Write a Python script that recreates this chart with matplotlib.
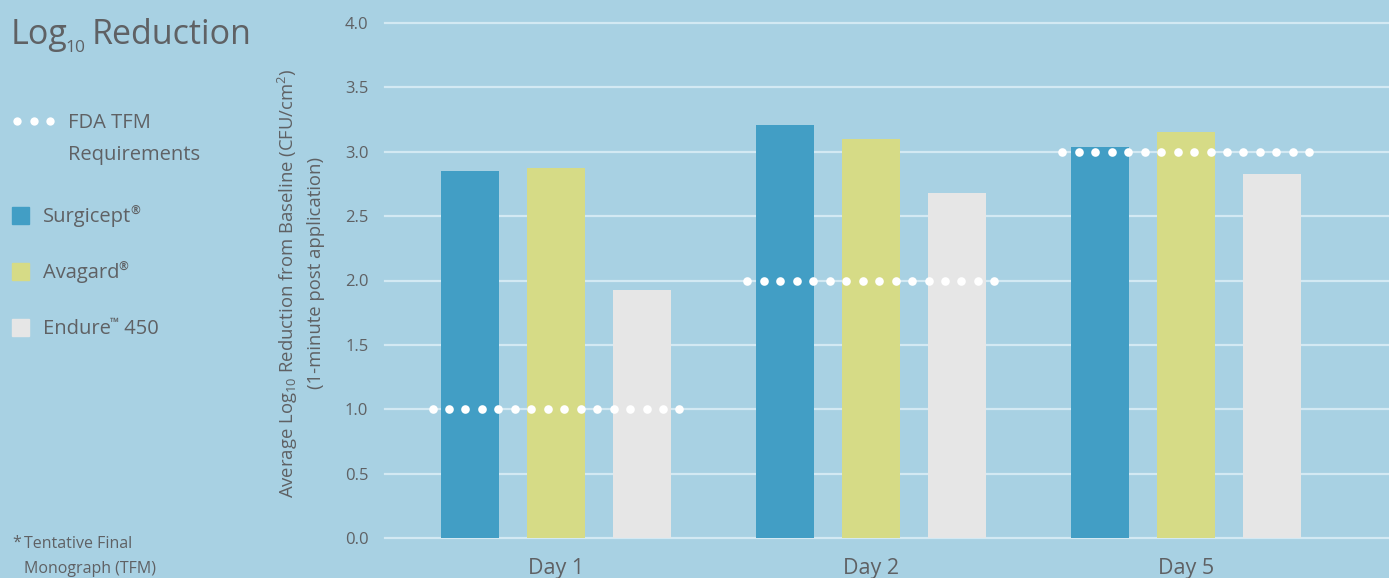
import numpy as np
import matplotlib.pyplot as plt
from matplotlib.patches import Rectangle
from matplotlib.lines import Line2D

plt.rcParams['font.family'] = ['Open Sans', 'DejaVu Sans']
plt.rcParams['mathtext.fontset'] = 'custom'
plt.rcParams['mathtext.rm'] = 'Open Sans'
plt.rcParams['mathtext.it'] = 'Open Sans'

# data
days = ['Day 1', 'Day 2', 'Day 5']
products = ['Surgicept', 'Avagard', 'Endure']
marks = ['®', '®', '™']
suffix = ['', '', ' 450']
surgicept = [2.85, 3.21, 3.04]
avagard = [2.87, 3.10, 3.15]
endure = [1.93, 2.68, 2.83]
tfm_req = [1.0, 2.0, 3.0]
yticks = [0.0, 0.5, 1.0, 1.5, 2.0, 2.5, 3.0, 3.5, 4.0]

bg = '#A8D1E3'
grid_c = '#D3E9F3'
text_c = '#5F6164'
colors = ['#429EC5', '#D6DB86', '#E6E6E6']

W, H = 1389, 578
fig = plt.figure(figsize=(W / 100, H / 100), dpi=100, facecolor=bg)

def fx(px):
	return px / W

def fy(py):
	return 1 - py / H

ax = fig.add_axes([fx(385), fy(538), 1 - fx(385), fy(23) - fy(538)])
ax.set_facecolor(bg)

x = np.arange(len(days))
bw = 0.184
off = 0.273
for i, vals in enumerate([surgicept, avagard, endure]):
	ax.bar(x + (i - 1) * off, vals, width=bw, color=colors[i], zorder=2)

# FDA TFM dotted requirement lines
for xi, req in zip(x, tfm_req):
	xs = np.linspace(xi - 0.392, xi + 0.392, 16)
	ax.plot(xs, [req] * len(xs), 'o', color='white', markersize=6.2,
			markeredgewidth=0, zorder=4)

ax.set_xlim(-0.543, 2.645)
ax.set_ylim(0, 4)
ax.set_yticks(yticks)
ax.set_yticklabels([f'{t:.1f}' for t in yticks])
ax.yaxis.grid(True, color=grid_c, linewidth=1.6, zorder=1)
ax.set_axisbelow(True)
for gl in ax.get_ygridlines():
	gl.set_clip_on(False)
for s in ax.spines.values():
	s.set_visible(False)
ax.tick_params(axis='y', length=0, pad=12, labelsize=12, labelcolor=text_c)
ax.set_xticks(x)
ax.set_xticklabels([])
ax.tick_params(axis='x', length=0)

# day labels under group centres
for xi, d in zip(x, days):
	ax.annotate(d, xy=(xi, 0), xycoords=('data', 'axes fraction'),
				xytext=(0, -14.5), textcoords='offset points', ha='center', va='top',
				fontsize=15.5, color=text_c, annotation_clip=False)

# y label (two lines)
fig.text(fx(288), fy(283), 'Average Log$_{10}$ Reduction from Baseline (CFU/cm$^{2}$)',
		 rotation=90, ha='center', va='center', fontsize=13.3, color=text_c)
fig.text(fx(316), fy(273), '(1-minute post application)',
		 rotation=90, ha='center', va='center', fontsize=13.3, color=text_c)

# title built from pieces so the subscript is small
fig.canvas.draw()
r = fig.canvas.get_renderer()
t1 = fig.text(fx(11), fy(44), 'Log', ha='left', va='baseline', fontsize=24.5, color=text_c)
e1 = t1.get_window_extent(r)
t2 = fig.text(e1.x1 / W - 0.0015, fy(52), '10', ha='left', va='baseline', fontsize=12.5, color=text_c)
e2 = t2.get_window_extent(r)
fig.text(e2.x1 / W + 0.004, fy(44), 'Reduction', ha='left', va='baseline', fontsize=24.5, color=text_c)

# legend
fig.add_artist(Line2D([fx(17), fx(33.5), fx(50)], [fy(121)] * 3, transform=fig.transFigure,
					  linestyle='none', marker='o', markersize=6, color='white',
					  markeredgewidth=0))
fig.text(fx(68), fy(123), 'FDA TFM', ha='left', va='center', fontsize=14.5, color=text_c)
fig.text(fx(68), fy(155), 'Requirements', ha='left', va='center', fontsize=14.5, color=text_c)

for i, yy in enumerate([215, 271, 327]):
	fig.patches.append(Rectangle((fx(12), fy(yy + 8.5)), 17 / W, 17 / H,
								 color=colors[i], transform=fig.transFigure))
	t = fig.text(fx(43), fy(yy + 7), products[i], ha='left', va='baseline',
				 fontsize=14.5, color=text_c)
	e = t.get_window_extent(r)
	t = fig.text(e.x1 / W - 0.0005, fy(yy - 1), marks[i], ha='left', va='baseline',
				 fontsize=8.5, fontweight='semibold', color=text_c)
	e = t.get_window_extent(r)
	if suffix[i]:
		fig.text(e.x1 / W, fy(yy + 7), suffix[i], ha='left', va='baseline',
				 fontsize=14.5, color=text_c)

# footnote
fig.text(fx(12), fy(543), '*', ha='left', va='center', fontsize=11.5, color=text_c)
fig.text(fx(24), fy(544), 'Tentative Final', ha='left', va='center', fontsize=11.5, color=text_c)
fig.text(fx(24), fy(569), 'Monograph (TFM)', ha='left', va='center', fontsize=11.5, color=text_c)

plt.savefig('out.png', dpi=100, facecolor=bg)
